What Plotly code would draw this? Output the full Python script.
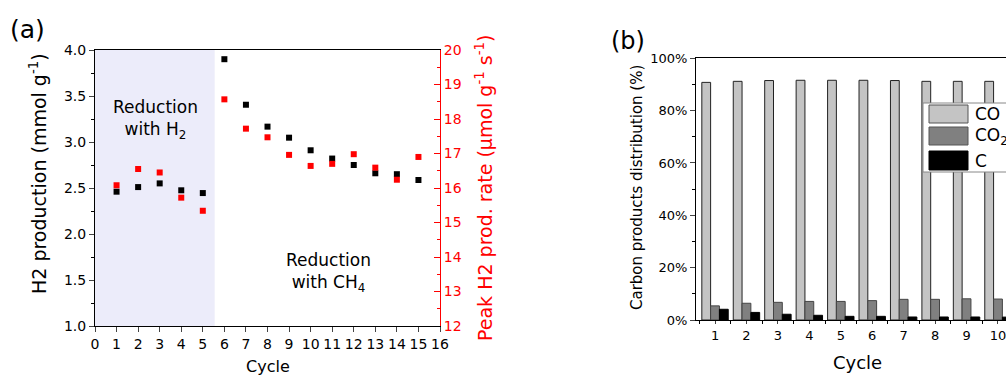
import plotly.graph_objects as go

# ---------------- data ----------------
cycles_a = list(range(1, 16))
h2_production = [2.46, 2.51, 2.55, 2.475, 2.445, 3.90, 3.405, 3.167, 3.047, 2.91, 2.82, 2.75, 2.66, 2.65, 2.587]
peak_rate = [16.08, 16.55, 16.45, 15.72, 15.34, 18.57, 17.72, 17.47, 16.96, 16.64, 16.70, 16.98, 16.59, 16.24, 16.90]
h2_reduction_end = 5.55

cycles_b = list(range(1, 11))
co_share = [90.8, 91.2, 91.5, 91.6, 91.6, 91.6, 91.5, 91.2, 91.2, 91.2]
co2_share = [5.4, 6.4, 6.75, 7.1, 7.1, 7.4, 7.9, 7.9, 8.1, 8.0]
c_share = [4.1, 2.9, 2.2, 1.8, 1.4, 1.4, 1.15, 1.15, 1.15, 1.1]

W, H = 1006, 376
FONT = "DejaVu Sans"


def px(x):
    return x / W


def py(y):
    return (H - y) / H


fig = go.Figure()

# ---------------- panel (a) ----------------
fig.add_trace(go.Scatter(x=cycles_a, y=h2_production, mode="markers",
                         marker=dict(symbol="square", size=6, color="black"),
                         xaxis="x", yaxis="y", showlegend=False))
fig.add_trace(go.Scatter(x=cycles_a, y=peak_rate, mode="markers",
                         marker=dict(symbol="square", size=6, color="#ff0000"),
                         xaxis="x", yaxis="y2", showlegend=False))

# ---------------- panel (b) ----------------
fig.add_trace(go.Bar(x=cycles_b, y=co_share, name="CO", xaxis="x3", yaxis="y3",
                     marker=dict(color="#c4c4c4", line=dict(color="#222222", width=1)),
                     showlegend=False))
fig.add_trace(go.Bar(x=cycles_b, y=co2_share, name="CO2", xaxis="x3", yaxis="y3",
                     marker=dict(color="#808080", line=dict(color="#444444", width=1)),
                     showlegend=False))
fig.add_trace(go.Bar(x=cycles_b, y=c_share, name="C", xaxis="x3", yaxis="y3",
                     marker=dict(color="#000000", line=dict(color="#000000", width=1)),
                     showlegend=False))

tickfont_a = dict(family=FONT, size=14, color="black")

fig.update_layout(
    width=W, height=H,
    margin=dict(l=0, r=0, t=0, b=0, pad=0, autoexpand=False),
    paper_bgcolor="white", plot_bgcolor="white",
    showlegend=False,
    font=dict(family=FONT, color="black"),
    barmode="group", bargap=0.16, bargroupgap=0,
    xaxis=dict(domain=[px(95), px(440)], range=[0, 16], anchor="y", automargin=False,
               tickmode="linear", tick0=0, dtick=1, ticks="outside", ticklen=5,
               showline=True, linecolor="black", linewidth=1, mirror=True,
               showgrid=False, zeroline=False, tickfont=tickfont_a),
    yaxis=dict(domain=[py(326), py(50)], range=[1, 4], anchor="x", automargin=False,
               tickmode="linear", tick0=1, dtick=0.5, tickformat=".1f",
               ticks="outside", ticklen=5,
               minor=dict(tick0=1, dtick=0.25, ticks="outside", ticklen=3, tickcolor="black"),
               showline=True, linecolor="black", linewidth=1,
               showgrid=False, zeroline=False, tickfont=tickfont_a),
    yaxis2=dict(overlaying="y", side="right", anchor="x", range=[12, 20], automargin=False,
                tickmode="linear", tick0=12, dtick=1, ticks="inside", ticklen=6,
                tickcolor="#ff0000",
                minor=dict(tick0=12, dtick=0.5, ticks="inside", ticklen=3, tickcolor="#ff0000"),
                showline=True, linecolor="#ff0000", linewidth=1,
                showgrid=False, zeroline=False,
                tickfont=dict(family=FONT, size=14, color="#ff0000")),
    xaxis3=dict(domain=[px(696), 1.0], range=[0.395, 10.255], anchor="y3", automargin=False,
                tickmode="array", tickvals=cycles_b, ticktext=[str(c) for c in cycles_b],
                ticks="outside", ticklen=3, ticklabeloverflow="allow",
                minor=dict(tick0=0.5, dtick=1, ticks="outside", ticklen=3, tickcolor="black"),
                showline=True, linecolor="black", linewidth=1, mirror=True,
                showgrid=False, zeroline=False,
                tickfont=dict(family=FONT, size=13, color="black")),
    yaxis3=dict(domain=[py(320), py(58.3)], range=[0, 100], anchor="x3", automargin=False,
                tickmode="linear", tick0=0, dtick=20, ticksuffix="%",
                ticks="outside", ticklen=5,
                minor=dict(tick0=0, dtick=10, ticks="outside", ticklen=3, tickcolor="black"),
                showline=True, linecolor="black", linewidth=1,
                showgrid=False, zeroline=False,
                tickfont=dict(family=FONT, size=13, color="black")),
)

# shaded region (reduction with H2)
fig.add_shape(type="rect", xref="x", yref="y domain", x0=0, x1=h2_reduction_end, y0=0, y1=1,
              fillcolor="#ececfa", line=dict(width=0), layer="below")

# custom legend for panel (b)
fig.add_shape(type="rect", xref="paper", yref="paper", x0=px(923), x1=px(1012), y0=py(172), y1=py(103),
              fillcolor="white", line=dict(color="#888888", width=1), layer="above")
legend_items = [("CO", "#c4c4c4", "#555555", 105, 123),
                ("CO<sub>2</sub>", "#808080", "#555555", 127, 145),
                ("C", "#000000", "#000000", 151, 170)]
for label, fill, edge, y0, y1 in legend_items:
    fig.add_shape(type="rect", xref="paper", yref="paper", x0=px(929), x1=px(968), y0=py(y1), y1=py(y0),
                  fillcolor=fill, line=dict(color=edge, width=1), layer="above")
    fig.add_annotation(xref="paper", yref="paper", x=px(973), y=py((y0 + y1) / 2), text=label,
                       showarrow=False, xanchor="left", yanchor="middle",
                       font=dict(family=FONT, size=17, color="black"))

annotations = [
    dict(x=px(27), y=py(30), text="(a)", size=25, color="black", angle=0),
    dict(x=px(628), y=py(41), text="(b)", size=24, color="black", angle=0),
    dict(x=px(155), y=py(119), text="Reduction<br>with H<sub>2</sub>", size=17, color="black", angle=0),
    dict(x=px(328), y=py(272), text="Reduction<br>with CH<sub>4</sub>", size=17, color="black", angle=0),
    dict(x=px(38), y=py(174), text="H2 production (mmol g<sup>-1</sup>)", size=19, color="black", angle=-90),
    dict(x=px(484), y=py(188), text="Peak H2 prod. rate (\u03bcmol g<sup>-1</sup> s<sup>-1</sup>)", size=19,
         color="#ff0000", angle=-90),
    dict(x=px(268), y=py(366), text="Cycle", size=16, color="black", angle=0),
    dict(x=px(857), y=py(362), text="Cycle", size=18, color="black", angle=0),
    dict(x=px(637), y=py(188), text="Carbon products distribution (%)", size=15, color="black", angle=-90),
]
for a in annotations:
    fig.add_annotation(xref="paper", yref="paper", x=a["x"], y=a["y"], text=a["text"],
                       showarrow=False, xanchor="center", yanchor="middle", textangle=a["angle"],
                       font=dict(family=FONT, size=a["size"], color=a["color"]))

fig.write_html("out.html", config={"displayModeBar": False},
               post_script="document.body.style.margin='0';document.body.style.overflow='hidden';")
